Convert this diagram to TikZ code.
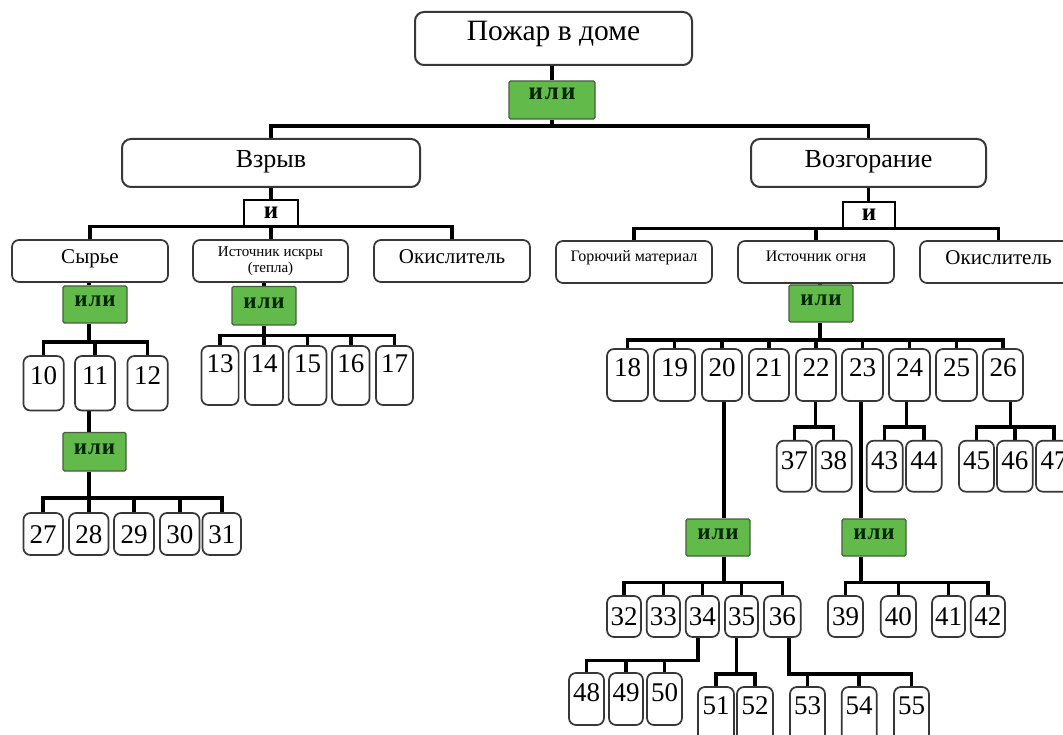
\documentclass[tikz,border=0pt]{standalone}
\usepackage{fontspec}
\setmainfont{Liberation Serif}
\usetikzlibrary{calc}
\pgfdeclarelayer{bg}
\pgfsetlayers{bg,main}
\definecolor{gfill}{RGB}{98,186,74}
\definecolor{gline}{RGB}{70,95,60}
\definecolor{bline}{RGB}{55,55,55}
\newcommand\bx[7]{%
  \node[#1, minimum width={#4-#3}, minimum height={#6-#5}] (#2) at ({(#3+#4)/2},{(#5+#6)/2}) {#7};}
\begin{document}
\begin{tikzpicture}[x=1pt,y=-1pt,
  box/.style={draw=bline, line width=1.7pt, rounded corners=7pt, fill=white, inner sep=0pt, align=center},
  titlebox/.style={box, line width=2pt, rounded corners=9pt, font=\fontsize{29.5}{32}\selectfont, text height=20pt, text depth=16.5pt},
  bigbox/.style={box, line width=2pt, rounded corners=9pt, font=\fontsize{26}{30}\selectfont, text height=18pt, text depth=9pt},
  midbox/.style={box, rounded corners=7pt, font=\fontsize{21}{24}\selectfont, text height=15pt, text depth=10pt},
  smallbox/.style={box, rounded corners=7pt, font=\fontsize{16}{18}\selectfont, text height=12pt, text depth=13pt},
  tinybox/.style={box, rounded corners=7pt, font=\fontsize{15}{16}\selectfont},
  numbox/.style={box, font=\fontsize{27}{30}\selectfont, text height=18pt, text depth=#1},
  numbox/.default=0pt,
  orbox/.style={draw=gline, line width=1.2pt, fill=gfill, rounded corners=1.5pt, inner sep=0pt, text=black!85!green, text depth=6pt, font=\bfseries\fontsize{23}{26}\selectfont\addfontfeatures{LetterSpace=4}},
  orbig/.style={orbox, text depth=12pt, font=\bfseries\fontsize{25}{28}\selectfont\addfontfeatures{LetterSpace=8}},
  andbox/.style={draw=black, line width=1.5pt, fill=white, inner sep=0pt, font=\bfseries\fontsize{25}{28}\selectfont},
  conn/.style={line width=3.5pt}]
\useasboundingbox (0,0) rectangle (1063,735);
% top levels
\bx{titlebox}{top}{415}{692}{12}{65}{Пожар в доме}
\bx{orbig}{or0}{509}{595}{81}{119}{или}
\bx{bigbox}{vz}{122}{420}{139}{187}{Взрыв}
\bx{bigbox}{vo}{751}{986}{139}{187}{Возгорание}
\bx{andbox}{a1}{244}{298}{200}{226}{и\hspace{16pt}}
\bx{andbox}{a2}{843}{895}{202}{228}{и\hspace{16pt}}
\bx{midbox}{syr}{12}{168}{240}{282}{Сырье}
\bx{tinybox}{is1}{193}{348}{240}{282}{Источник искры\\(тепла)}
\bx{midbox}{ok1}{374}{530}{240}{282}{Окислитель}
\bx{smallbox}{gor}{556}{712}{241}{283}{Горючий материал}
\bx{smallbox}{is2}{738}{894}{241}{283}{Источник огня}
\bx{midbox}{ok2}{920}{1077}{241}{283}{Окислитель}
% or gates
\bx{orbox}{or1}{63}{127}{286}{323}{или}
\bx{orbox}{or2}{63}{126}{432.5}{471}{или}
\bx{orbox}{or3}{232}{296}{286.5}{325}{или}
\bx{orbox}{or4}{789}{853}{285}{322}{или}
\bx{orbox}{or5}{686}{750}{519}{556}{или}
\bx{orbox}{or6}{842}{906}{519}{556}{или}
% numbers
\bx{numbox=15.5pt}{n10}{23.4}{63.7}{356}{410.5}{10}
\bx{numbox=15.5pt}{n11}{75}{115}{356}{410.5}{11}
\bx{numbox=15.5pt}{n12}{127.4}{167.7}{356}{410.5}{12}
\bx{numbox=24pt}{n13}{201.4}{238.6}{346}{405}{13}
\bx{numbox=24pt}{n14}{245}{283}{346}{405}{14}
\bx{numbox=24pt}{n15}{288.6}{326.4}{346}{405}{15}
\bx{numbox=24pt}{n16}{332}{369.5}{346}{405}{16}
\bx{numbox=24pt}{n17}{376}{413}{346}{405}{17}
\bx{numbox}{n27}{23.4}{63}{513}{555}{27}
\bx{numbox}{n28}{69}{108.5}{513}{555}{28}
\bx{numbox}{n29}{114}{154}{513}{555}{29}
\bx{numbox}{n30}{160}{199.5}{513}{555}{30}
\bx{numbox}{n31}{202.5}{241}{513}{555}{31}
\bx{numbox=15pt}{n18}{607}{648}{349}{401}{18}
\bx{numbox=15pt}{n19}{654}{695}{349}{401}{19}
\bx{numbox=15pt}{n20}{702}{742}{349}{401}{20}
\bx{numbox=15pt}{n21}{749}{789}{349}{401}{21}
\bx{numbox=15pt}{n22}{796}{836}{349}{401}{22}
\bx{numbox=15pt}{n23}{842}{883}{349}{401}{23}
\bx{numbox=15pt}{n24}{889}{930}{349}{401}{24}
\bx{numbox=15pt}{n25}{936}{977}{349}{401}{25}
\bx{numbox=15pt}{n26}{983}{1023}{349}{401}{26}
\bx{numbox=12.4pt}{n37}{776.7}{812}{440.7}{491.7}{37}
\bx{numbox=12.4pt}{n38}{815.7}{851.7}{440.7}{491.7}{38}
\bx{numbox=12.4pt}{n43}{866.7}{902.7}{440.7}{491.7}{43}
\bx{numbox=12.4pt}{n44}{906}{941.7}{440.7}{491.7}{44}
\bx{numbox=12.4pt}{n45}{959}{994}{440.7}{491.7}{45}
\bx{numbox=12.4pt}{n46}{997}{1032.7}{440.7}{491.7}{46}
\bx{numbox=12.4pt}{n47}{1036}{1072}{440.7}{491.7}{47}
\bx{numbox}{n32}{607}{641}{596}{637}{32}
\bx{numbox}{n33}{646.7}{680}{596}{637}{33}
\bx{numbox}{n34}{685.7}{719}{596}{637}{34}
\bx{numbox}{n35}{725}{758}{596}{637}{35}
\bx{numbox}{n36}{764}{800.7}{596}{637}{36}
\bx{numbox}{n39}{828}{863}{596}{637}{39}
\bx{numbox}{n40}{880.7}{916}{596}{637}{40}
\bx{numbox}{n41}{932}{965}{596}{637}{41}
\bx{numbox}{n42}{970.7}{1005}{596}{637}{42}
\bx{numbox=14pt}{n48}{569}{604}{673}{725}{48}
\bx{numbox=14pt}{n49}{609}{643}{673}{725}{49}
\bx{numbox=14pt}{n50}{647}{682}{673}{725}{50}
\bx{numbox=29pt}{n51}{698}{734}{687}{752}{51}
\bx{numbox=29pt}{n52}{737}{773}{687}{752}{52}
\bx{numbox=29pt}{n53}{790}{825}{687}{752}{53}
\bx{numbox=29pt}{n54}{841.7}{876.7}{687}{752}{54}
\bx{numbox=29pt}{n55}{894}{929}{687}{752}{55}
% connectors
\begin{pgfonlayer}{bg}
\fill[white] (0,0) rectangle (1063,735);
\draw[conn] (top.south -| or0) -- (or0.north);
\coordinate (b0) at (552,126);
\draw[conn] (or0.south) -- (b0);
\draw[conn] (vz.north) |- (b0) -| (vo.north);
\draw[conn] (vz.south) -- (a1.north);
\draw[conn] (syr.north) |- (a1.south) -| (ok1.north);
\draw[conn] (a1.south) -- (is1.north -| a1.south);
\draw[conn] (vo.south) -- (a2.north -| vo.south);
\draw[conn] (gor.north) |- (a2.south) -| (ok2.north);
\draw[conn] (is2.north) -- (is2.north |- a2.south);
% Сырье
\coordinate (b1) at (89,342);
\draw[conn] (syr.south -| b1) -- (or1.north -| b1);
\draw[conn] (or1.south -| b1) -- (b1);
\draw[conn] (n10.north) |- (b1) -| (n12.north);
\draw[conn] (n11.north) -- (n11.north |- b1);
\coordinate (b2) at (89,498);
\draw[conn] ($(n11.south -| b2)+(0,-14)$) -- (or2.north -| b2);
\draw[conn] (or2.south -| b2) -- (b2);
\draw[conn] (n27.north) |- (b2) -| (n31.north);
\foreach \n in {28,29,30} \draw[conn] (n\n.north) -- (n\n.north |- b2);
% искра
\coordinate (b3) at (264,335.4);
\draw[conn] (is1.south -| b3) -- (or3.north -| b3);
\draw[conn] (or3.south -| b3) -- (b3);
\draw[conn] (n13.north) |- (b3) -| (n17.north);
\foreach \n in {14,15,16} \draw[conn] (n\n.north) -- (n\n.north |- b3);
% огонь
\coordinate (b4) at (820,340);
\draw[conn] (is2.south -| b4) -- (or4.north -| b4);
\draw[conn] (or4.south -| b4) -- (b4);
\draw[conn] (n18.north) |- (b4) -| (n26.north);
\foreach \n in {19,...,25} \draw[conn] (n\n.north) -- (n\n.north |- b4);
% 20
\coordinate (b5) at (724,582.7);
\draw[conn] (n20.south -| b5) -- (or5.north -| b5);
\draw[conn] (or5.south -| b5) -- (b5);
\draw[conn] (n32.north) |- (b5) -| (n36.north);
\foreach \n in {33,34,35} \draw[conn] (n\n.north) -- (n\n.north |- b5);
% 23
\coordinate (b6) at (861,582.7);
\draw[conn] (n23.south -| b6) -- (or6.north -| b6);
\draw[conn] (or6.south -| b6) -- (b6);
\draw[conn] (n39.north) |- (b6) -| (n42.north);
\foreach \n in {40,41} \draw[conn] (n\n.north) -- (n\n.north |- b6);
% 22, 24, 26
\coordinate (b7) at (815.7,427);
\draw[conn] (n22.south -| b7) -- (b7);
\draw[conn] (n37.north) |- (b7) -| (n38.north);
\coordinate (b8) at (906.7,427);
\draw[conn] (n24.south -| b8) -- (b8);
\draw[conn] (n43.north) |- (b8) -| (n44.north);
\coordinate (b9) at (1010.7,427);
\draw[conn] ($(n26.south -| b9)+(0,-12)$) -- (b9);
\draw[conn] (n45.north) |- (b9) -| (n47.north);
\draw[conn] (n46.north) -- (n46.north |- b9);
% 34, 35, 36
\coordinate (b10) at (698,660.7);
\draw[conn] (n34.south -| b10) -- (b10) -| (n48.north);
\foreach \n in {49,50} \draw[conn] (n\n.north) -- (n\n.north |- b10);
\coordinate (b11) at (736.7,674);
\draw[conn] (n35.south -| b11) -- (b11);
\draw[conn] (n51.north) |- (b11) -| (n52.north);
\coordinate (b12) at (789,674);
\draw[conn] (n36.south -| b12) -- (b12) -| (n55.north);
\foreach \n in {53,54} \draw[conn] (n\n.north) -- (n\n.north |- b12);
\end{pgfonlayer}
\end{tikzpicture}
\end{document}
